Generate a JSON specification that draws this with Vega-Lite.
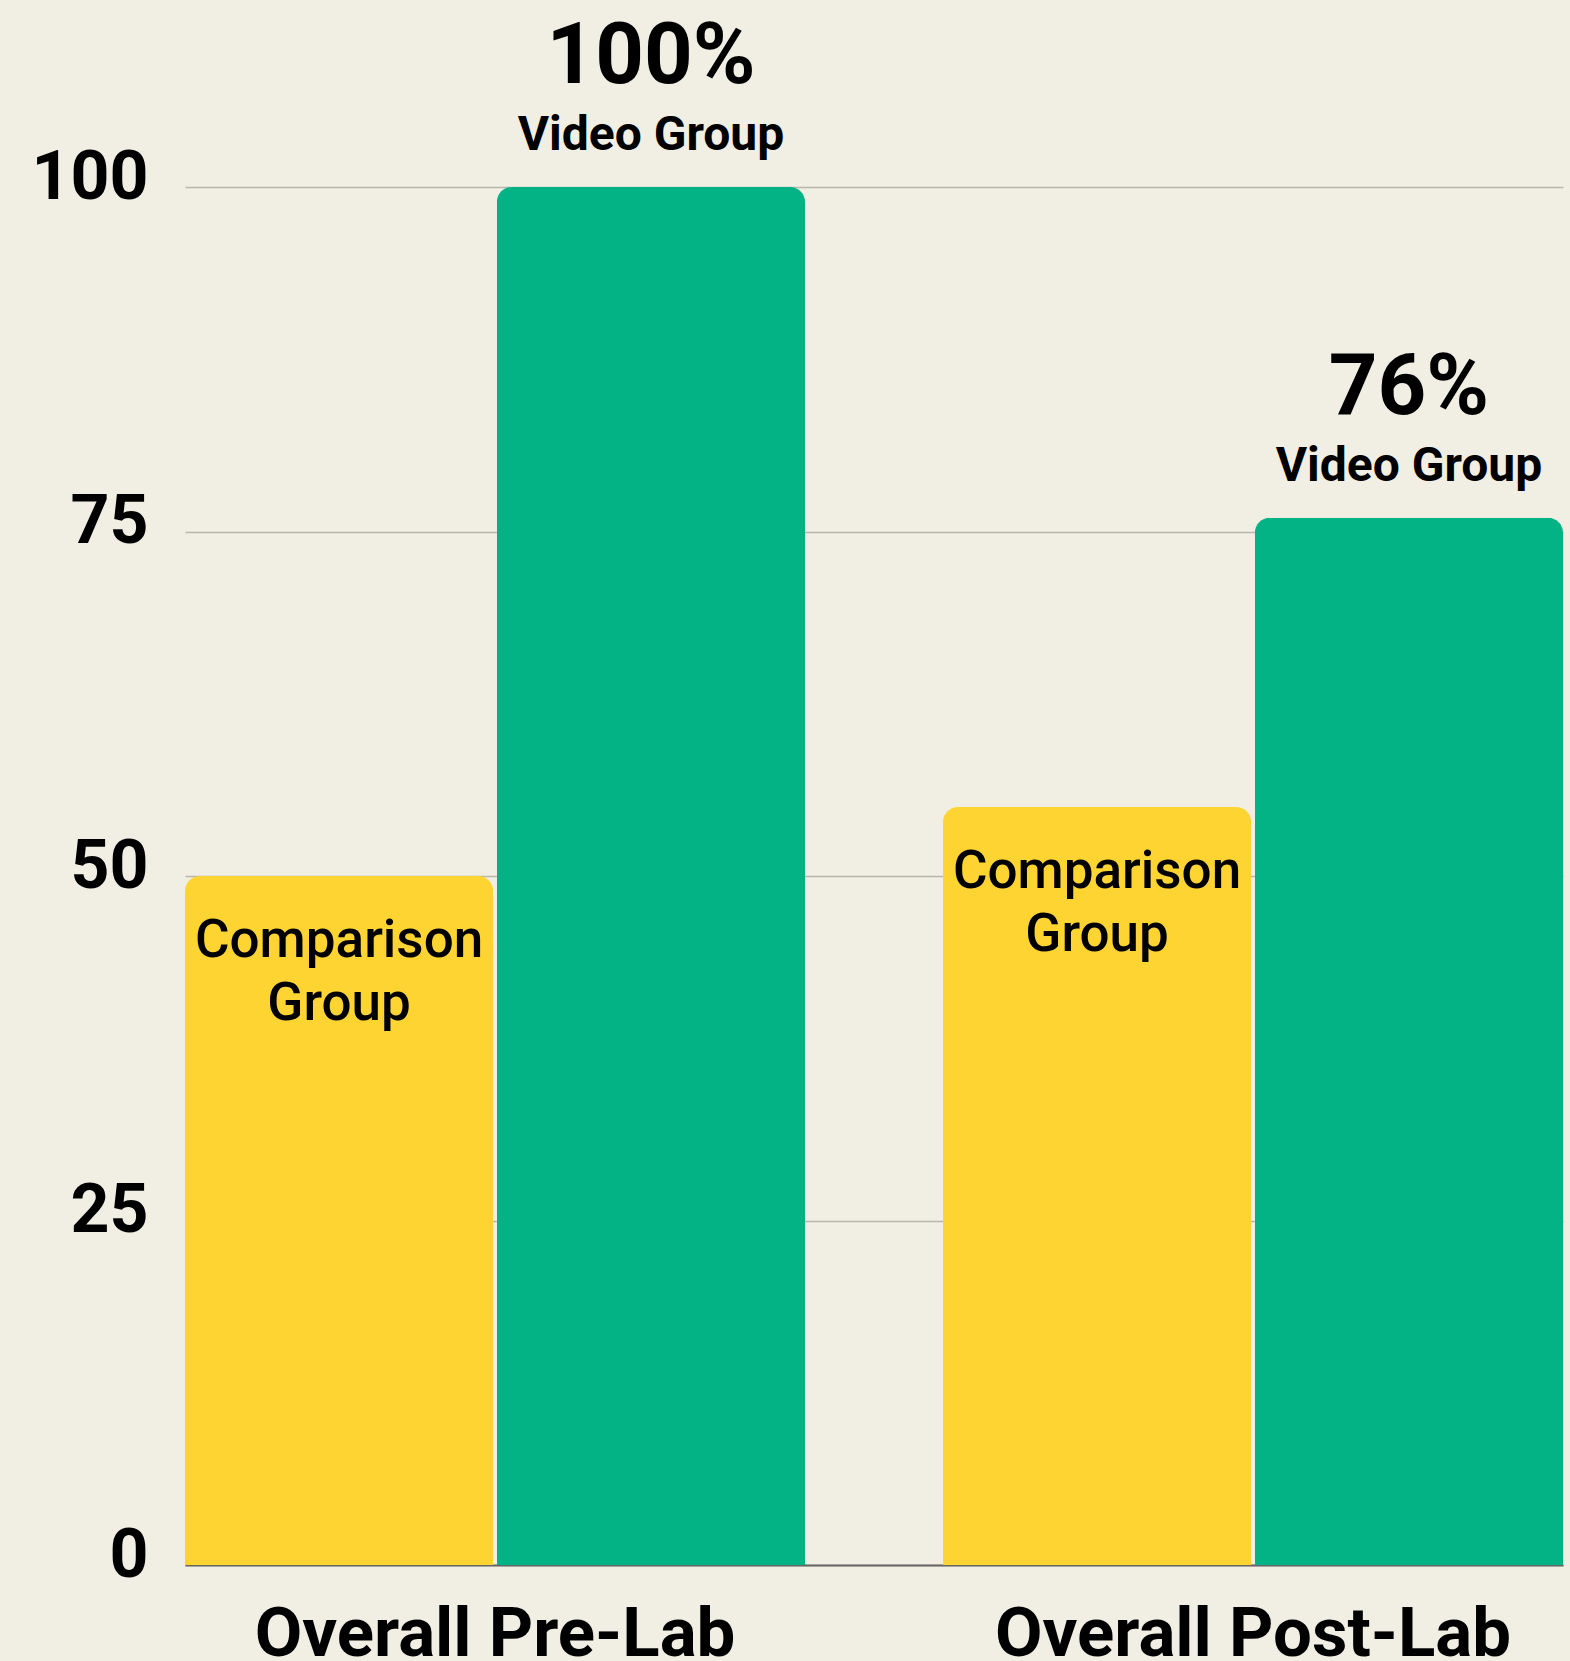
{
  "$schema": "https://vega.github.io/schema/vega-lite/v6.json",
  "width": 1378,
  "height": 1378,
  "autosize": {"type": "none"},
  "padding": {"left": 185, "top": 187, "right": 7, "bottom": 96},
  "background": "#F1EFE3",
  "config": {
    "view": {"stroke": null},
    "font": "Roboto",
    "axis": {"labelFont": "Roboto", "labelColor": "#000000"}
  },
  "data": {
    "values": [
      {"phase": "Overall Pre-Lab", "group": "Comparison Group", "value": 50, "pct": "", "label": "Comparison\nGroup"},
      {"phase": "Overall Pre-Lab", "group": "Video Group", "value": 100, "pct": "100%", "label": "Video Group"},
      {"phase": "Overall Post-Lab", "group": "Comparison Group", "value": 55, "pct": "", "label": "Comparison\nGroup"},
      {"phase": "Overall Post-Lab", "group": "Video Group", "value": 76, "pct": "76%", "label": "Video Group"}
    ]
  },
  "encoding": {
    "x": {
      "field": "phase",
      "type": "nominal",
      "sort": ["Overall Pre-Lab", "Overall Post-Lab"],
      "scale": {"paddingInner": 0.182, "paddingOuter": 0},
      "axis": {
        "title": null,
        "labelAngle": 0,
        "labelFontSize": 69,
        "labelFontWeight": "bold",
        "labelPadding": 35,
        "labelLimit": 0,
        "ticks": false,
        "domain": true,
        "domainColor": "#666666",
        "domainWidth": 2,
        "grid": false
      }
    },
    "xOffset": {
      "field": "group",
      "type": "nominal",
      "sort": ["Comparison Group", "Video Group"],
      "scale": {"paddingInner": 0.012, "paddingOuter": 0}
    }
  },
  "layer": [
    {
      "mark": {"type": "bar", "cornerRadiusTopLeft": 15, "cornerRadiusTopRight": 15},
      "encoding": {
        "y": {
          "field": "value",
          "type": "quantitative",
          "scale": {"domain": [0, 100], "nice": false},
          "axis": {
            "title": null,
            "values": [0, 25, 50, 75, 100],
            "labelFontSize": 68,
            "labelFontWeight": "bold",
            "labelPadding": 37,
            "labelOffset": -9,
            "ticks": false,
            "domain": false,
            "grid": true,
            "gridColor": "#B9B6AB",
            "gridWidth": 1.5
          }
        },
        "color": {
          "field": "group",
          "type": "nominal",
          "scale": {"domain": ["Comparison Group", "Video Group"], "range": ["#FDD431", "#03B386"]},
          "legend": null
        }
      }
    },
    {
      "transform": [{"filter": "datum.group === 'Video Group'"}],
      "mark": {"type": "text", "font": "Roboto", "fontWeight": "bold", "fontSize": 85, "baseline": "alphabetic", "align": "center", "dy": -104, "color": "#000000"},
      "encoding": {
        "y": {"field": "value", "type": "quantitative"},
        "text": {"field": "pct"}
      }
    },
    {
      "transform": [{"filter": "datum.group === 'Video Group'"}],
      "mark": {"type": "text", "font": "Roboto", "fontWeight": "bold", "fontSize": 48, "baseline": "alphabetic", "align": "center", "dy": -37, "color": "#000000"},
      "encoding": {
        "y": {"field": "value", "type": "quantitative"},
        "text": {"field": "label"}
      }
    },
    {
      "transform": [{"filter": "datum.group === 'Comparison Group'"}],
      "mark": {"type": "text", "font": "Roboto", "fontWeight": 500, "fontSize": 53, "baseline": "alphabetic", "align": "center", "dy": 81, "lineHeight": 63, "lineBreak": "\n", "color": "#000000"},
      "encoding": {
        "y": {"field": "value", "type": "quantitative"},
        "text": {"field": "label"}
      }
    }
  ]
}
